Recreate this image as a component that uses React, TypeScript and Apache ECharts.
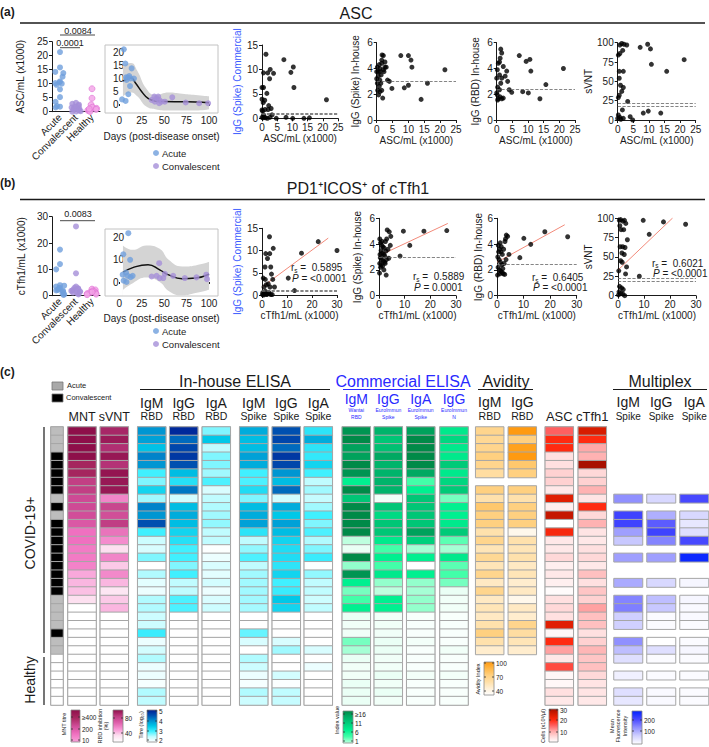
import React, { useEffect, useRef } from "react";
import * as echarts from "echarts";

const FONT = "'Liberation Sans', Arial, Helvetica, sans-serif";
const INK = "#1a1a1a";
const C_ACUTE = "#6f9fdc";
const C_CONV = "#a58ed8";
const C_HEALTHY = "#f2a2e6";
const BLUE_TXT = "#3b5bff";

// ===== Panels (a) / (b): dot plots (x1000 per mL) =====
const GROUPS = ["Acute", "Convalescent", "Healthy"];
const ascAcute = [21.3, 15.8, 14.2, 13.8, 12.5, 10.8, 10.5, 10.2, 10.0, 9.6, 8.0, 5.2, 3.5, 1.8, 1.5, 2.0];
const ascConv = [3.2, 2.5, 2.2, 1.8, 1.5, 1.2, 1.0, 0.8, 0.6, 0.4, 0.2, 0.1, 0.0, 2.8, 1.6, 0.9];
const ascHealthy = [8.2, 4.8, 2.5, 1.6, 1.2, 0.8, 0.5, 0.3, 0.1, 1.0];
const tfhAcute = [17.5, 12.0, 10.0, 4.0, 3.8, 3.5, 3.0, 2.8, 2.5, 2.0, 1.8, 1.5, 1.0, 0.5, 0.3, 2.2];
const tfhConv = [26.3, 8.5, 3.5, 3.0, 2.6, 2.2, 2.0, 1.8, 1.5, 1.2, 1.0, 0.8, 0.5, 2.8, 1.6];
const tfhHealthy = [2.5, 2.2, 1.8, 1.5, 1.2, 1.0, 0.8, 0.6, 0.4, 1.4];

// ===== Days post onset plots =====
const DAY_TICKS = [0, 25, 50, 75, 100];
const ASC_DAY_YTICKS = [0, 5, 10, 15, 20];
const TFH_DAY_YTICKS = [0, 10, 20];
const ascDaysAcute = [[5, 21.3], [6.7, 15.8], [13.7, 13.9], [9.3, 10.3], [11, 10.9], [7.4, 10.4], [12.6, 10], [8.1, 9.4], [16.3, 9.9], [11.9, 7], [10, 3.8], [3, 1.8], [7, 1.2]];
const ascDaysConv = [[36, 1.6], [39, 2.9], [41.5, 2.2], [39.6, 0.9], [43.3, 2.9], [44.4, 1.6], [47, 0.9], [44.4, 0.3], [50.7, 0.9], [59, 2.6], [74, 0.6], [89, 0.3], [99, 0.3]];
const ascFitDays = [4, 8, 13, 18, 25, 32, 40, 50, 70, 85, 100];
const ascFit = [9.0, 9.6, 10.2, 8.2, 4.8, 2.2, 1.2, 1.0, 0.9, 0.8, 0.5];
const ascBandDays = [4, 13, 20, 30, 40, 55, 70, 85, 100];
const ascBandUpper = [15, 16, 13, 6, 3.5, 4.5, 4, 3.5, 3];
const ascBandLower = [3, 4.5, 3, -1, -2, -2.5, -2.5, -2.5, -2];
const tfhDaysAcute = [[4.4, 12.5], [10, 22], [12, 10], [3.7, 3.3], [7.4, 4.3], [9.3, 2.8], [12.6, 2.2], [4.8, 0.6], [8, 0], [14.8, 2.8]];
const tfhDaysConv = [[38, 26.3], [44.4, 8.5], [36, 2.5], [41.5, 2.8], [45, 1.8], [50.7, 3.7], [49, 1.8], [60, 2.8], [73, 1.8], [86, 2.1], [97, 3.3], [97.8, 1.3]];
const tfhFitDays = [4, 15, 32, 45, 55, 70, 85, 100];
const tfhFit = [4.3, 6.5, 7.8, 5.5, 3.2, 1.5, 1.8, 3.5];
const tfhBandDays = [4, 15, 30, 45, 55, 70, 85, 100];
const tfhBandUpper = [16.5, 14.5, 16.5, 15, 10, 7, 7.5, 9];
const tfhBandLower = [-3.5, -0.5, 2, 0, -4, -6, -5, -3.5];

// ===== Correlation scatters =====
const ascVsIgGCom = [[0, 6.3], [0.5, 6.3], [1.3, 13.1], [0.5, 9.3], [1.9, 9.3], [2.7, 10], [3.8, 9.2], [2.5, 8.1], [1.6, 5.1], [0, 3.9], [0.9, 3.7], [0.4, 3.2], [2.2, 2.6], [1, 1.8], [2, 1.8], [0, 1.7], [0.5, 0.7], [3.3, 0.7], [0, 0.2], [0.3, 0.1], [0.8, 0.2], [1.2, 0.1], [1.8, 0], [2.6, 0.2], [4.7, 0], [7.9, 0.2], [10.1, 0], [13.8, 0], [15.6, 0.1], [7.2, 12], [9.5, 9.4], [10.3, 10.5], [10.5, 6.3], [21.2, 3.8], [0.2, 1.5], [3, 2]];
const ascVsIgGSpike = [[0.5, 3.75], [0.8, 4.3], [1.6, 4.65], [2.1, 5.0], [1.7, 5.05], [2.6, 4.5], [3, 4.1], [0.5, 3.4], [1, 3.1], [0.2, 2.85], [0.8, 2.6], [0.3, 2.3], [1, 2.2], [1.6, 2.3], [1.9, 1.7], [3.4, 3.1], [4, 3.0], [4.8, 2.45], [7.6, 5.0], [10, 5.0], [10.8, 4.65], [11.1, 4.1], [8.7, 2.5], [10, 2.7], [14, 1.6], [16, 2.85], [21.5, 3.9], [0.2, 4.1], [1, 4.0], [2.1, 3.9], [1.4, 3.5], [0, 3.2], [2.6, 4.1], [1, 3.75], [2.3, 3.75], [0.6, 1.95], [1.3, 2.85], [0, 3.75], [1.6, 4.4]];
const ascVsIgGRbd = [[1.3, 5.5], [1.6, 5.2], [1.1, 4.8], [0.5, 4.4], [2.1, 4.15], [3.2, 3.8], [2.7, 3.4], [0.2, 3.9], [0.9, 3.5], [1.6, 3.25], [0, 3.25], [1.3, 2.85], [0.3, 2.55], [0.9, 2.35], [3.5, 3.0], [0.2, 1.95], [1.1, 1.8], [1.6, 1.65], [0.5, 1.65], [2.1, 1.7], [0.3, 1.55], [4, 2.35], [4.8, 2.15], [7.2, 5.0], [9.4, 4.55], [10.6, 4.7], [10.9, 3.8], [8.3, 2.2], [10.1, 2.1], [13.8, 1.65], [15.7, 2.75], [21.3, 4.0], [0.9, 4.5], [0, 2.1]];
const ascVsSvnt = [[0.7, 97], [1.3, 99], [2, 98], [2.9, 97], [1.6, 90], [0.2, 84], [0.7, 86], [0.5, 63], [1.8, 63], [0.5, 54], [0.9, 45], [1.8, 42], [1.3, 37], [0.2, 29], [0.5, 32], [3.2, 24], [1.5, 13], [0.2, 6.5], [0.7, 3.4], [1.8, 2.2], [0, 2], [1, 1], [4, 4.3], [4.8, 0], [7.2, 94], [9.6, 98], [10.5, 92], [10.8, 72], [15.7, 63], [21.3, 78], [8.2, 9], [9.8, 11.5], [13.8, 9]];
const tfhVsIgGCom = [[3, 13.1], [4.5, 10.5], [1.5, 9.3], [3.1, 9.3], [2.2, 8.2], [1.2, 6.3], [3.5, 6.3], [4.3, 3.5], [0.5, 3.8], [1.3, 3.5], [2.5, 2.5], [0.8, 1.8], [3.2, 1.8], [5, 1.8], [0.3, 0.5], [1, 0.2], [1.8, 0.1], [2.6, 0.3], [3.5, 0.1], [0.6, 0], [4.1, 0.1], [13, 1], [10.5, 3.8], [15.8, 9.4], [22.5, 12], [30, 10], [2, 0.2], [1.4, 0.8], [2.8, 0.5], [0.2, 0.1], [1.7, 2.3], [3.8, 4.7]];
const tfhVsIgGSpike = [[0.3, 4.4], [0.6, 4.1], [1, 3.9], [1.5, 3.8], [2, 3.7], [2.5, 4.2], [3, 4.4], [0.8, 3.5], [1.2, 3.3], [2.2, 3.1], [3.5, 3.6], [4.4, 3.9], [0.5, 2.95], [1, 2.8], [1.6, 2.7], [2.2, 2.6], [0.3, 2.5], [0.8, 2.4], [1.4, 2.3], [2.4, 2.5], [0.6, 2.2], [0.2, 1.75], [2.8, 1.6], [1.8, 3.2], [3.2, 5.1], [4, 4.95], [4.6, 4.6], [9.5, 5.0], [17.5, 5.0], [26.4, 5.05], [12, 3.9], [8.2, 3.07], [1.2, 4.2], [2.7, 3.45], [0.4, 3.2], [3.8, 2.9], [1.9, 2.0], [2.9, 2.8]];
const tfhVsIgGRbd = [[0.5, 3.9], [1, 3.6], [1.5, 3.4], [2, 3.2], [2.5, 3.6], [3, 4.2], [3.5, 4.7], [4, 4.6], [0.3, 3.0], [0.8, 2.8], [1.3, 2.6], [1.8, 2.4], [0.4, 2.2], [0.9, 2.0], [1.4, 1.9], [1.9, 1.8], [2.4, 1.7], [2.9, 1.65], [0.2, 1.6], [1.1, 1.7], [2.2, 2.1], [3.4, 2.8], [4.5, 3.2], [0.6, 3.4], [1.6, 3.8], [2.7, 2.5], [8.6, 2.95], [10.1, 4.45], [12.7, 3.98], [18, 4.96], [26.6, 4.57], [3.2, 4.4], [1.2, 4.1]];
const tfhVsSvnt = [[0.5, 97], [1, 98], [1.8, 96], [2.5, 97], [3, 93], [1.2, 85], [2.2, 85], [3.6, 72], [0.8, 63], [1.8, 63], [2.4, 53], [1, 45], [1.6, 43], [3.3, 37], [0.3, 32], [2.9, 28], [0.6, 12], [1.4, 10], [2, 8], [0.4, 5], [1.1, 3], [1.9, 2], [0.2, 1], [2.6, 0], [9.7, 97], [17.5, 95], [26, 92], [12, 79], [8.2, 25], [0.7, 90], [2.7, 62], [1.5, 55]];
const thrCommercial = [0.8, 1.1];
const thrSpike = [3.0];
const thrRbd = [2.4];
const thrSvnt = [18, 22];
const fitTfhCom = [[0, 1.8], [26.5, 12.8]];
const fitTfhSpike = [[0, 3.1], [26.8, 5.6]];
const fitTfhRbd = [[0, 2.6], [25.5, 5.5]];
const fitTfhSvnt = [[0, 33], [21, 100]];
const statsR = ["0.5895", "0.5889", "0.6405", "0.6021"];
const statsP = ["<0.0001", "0.0001", "<0.0001", "<0.0001"];
const pvalsASC = ["0.0084", "0.0001"];
const pvalsTfh = ["0.0083"];

// ===== Panel (c) heatmap: 33 rows (27 COVID-19+, 6 healthy) =====
const HM_ROWS = ["r1", "r2", "r3", "r4", "r5", "r6", "r7", "r8", "r9", "r10", "r11", "r12", "r13", "r14", "r15", "r16", "r17", "r18", "r19", "r20", "r21", "r22", "r23", "r24", "r25", "r26", "r27", "r28", "r29", "r30", "r31", "r32", "r33"];
// 1 = acute, 2 = convalescent, 0 = healthy
const status = [1, 1, 1, 2, 2, 2, 2, 2, 1, 2, 1, 2, 2, 2, 2, 2, 2, 2, 2, 2, 1, 1, 1, 1, 2, 1, 1, 0, 0, 0, 0, 0, 0];
const mnt = [400, 400, 400, 400, 340, 340, 290, 290, 270, 270, 265, 245, 200, 200, 185, 185, 175, 125, 110, 100, 66, 0, 0, 0, 0, 0, 0, 0, 0, 0, 0, 0, 0];
const svnt = [92, 96, 89, 97, 88, 98, 97, 97, 57, 80, 76, 84, 62, 55, 36, 57, 41, 56, 45, 33, 41, 45, 20, 20, 20, 20, 20, 20, 20, 20, 20, 20, 20];
const igmRbd = [3.95, 3.85, 3.55, 4.1, 3.95, 3.0, 2.75, 3.35, 2.62, 4.1, 3.95, 4.5, 3.0, 2.4, 2.3, 2.75, 2.0, 2.56, 2.22, 2.15, 2.56, 2.56, 2.4, 2.4, 3.05, 2.15, 2.35, 2.56, 2.15, 2.15, 2.07, 2.56, 2.5];
const iggRbd = [4.9, 4.3, 4.6, 4.75, 4.5, 3.6, 3.2, 4.2, 2.35, 3.6, 3.75, 3.6, 3.35, 3.2, 3.0, 3.0, 2.75, 3.0, 2.5, 2.5, 2.95, 2.95, 2.0, 2.0, 2.0, 2.0, 2.0, 2.0, 2.0, 2.0, 2.0, 2.0, 2.0];
const igaRbd = [2.75, 3.5, 2.5, 2.75, 2.75, 2.62, 2.95, 2.3, 2.5, 2.56, 2.62, 2.68, 2.5, 2.5, 2.02, 2.15, 2.3, 2.22, 2.35, 2.15, 2.3, 2.4, 2.0, 2.0, 2.0, 2.0, 2.0, 2.0, 2.0, 2.0, 2.0, 2.0, 2.0];
const igmSpike = [3.75, 3.6, 3.6, 3.85, 3.75, 3.0, 2.95, 3.25, 2.75, 3.6, 3.75, 3.85, 3.15, 2.5, 2.68, 2.95, 2.5, 2.62, 2.62, 2.62, 2.62, 2.6, 2.0, 2.0, 2.85, 2.3, 2.0, 2.56, 2.4, 2.15, 2.07, 2.56, 2.4];
const iggSpike = [4.5, 4.6, 4.3, 4.75, 4.6, 3.95, 3.6, 4.3, 2.35, 3.75, 3.5, 3.85, 3.6, 3.35, 3.25, 3.25, 3.15, 3.35, 3.0, 3.05, 3.5, 3.35, 2.0, 2.0, 2.0, 2.3, 2.62, 2.0, 2.0, 2.35, 2.03, 2.5, 2.45];
const igaSpike = [3.15, 3.75, 3.15, 3.1, 3.35, 3.0, 2.5, 2.62, 2.45, 2.62, 3.0, 2.75, 2.95, 2.56, 2.75, 3.05, 2.02, 2.68, 2.5, 2.5, 2.4, 2.5, 2.0, 2.0, 2.0, 2.0, 2.3, 2.0, 2.15, 2.0, 2.0, 2.0, 2.0];
const wantaiIgm = [15.2, 16, 14.3, 14.3, 16, 15.2, 8, 16, 11.5, 16, 16, 16, 16, 2.7, 0.9, 16, 3.6, 15.2, 8, 4.2, 5.3, 8, 0.9, 0.6, 0.6, 4.2, 3.2, 0.9, 0.6, 0.6, 0.9, 0.9, 0.9];
const euroIggSpike = [13, 11.5, 12, 13.8, 13, 13, 13, 13, 0.6, 11.5, 9.8, 11.5, 11.5, 8.6, 5.3, 8, 5.3, 8.6, 3.6, 2.7, 8, 8, 0.6, 0.6, 0.6, 0.9, 0.9, 0.6, 0.6, 0.9, 0.6, 0.9, 0.6];
const euroIgaSpike = [14.3, 16, 16, 16, 16, 13.8, 5.3, 8, 11.5, 11.5, 11.5, 11.5, 14.3, 10.7, 3.2, 8, 0, 8, 3.6, 3.2, 3.6, 3.6, 0.3, 0.3, 0.3, 0.5, 0.3, 0.3, 0.3, 0.5, 0.3, 0.3, 0.3];
const euroIggN = [8.6, 10, 8.6, 8.6, 11.2, 8.6, 10.2, 11.2, 4.2, 8, 8, 8.6, 11.2, 4.8, 3.2, 8.6, 4.8, 5.3, 4.2, 0.9, 0.6, 0.6, 0.3, 0.3, 0.3, 0.3, 0.6, 0.3, 0.3, 0.5, 0.3, 0.3, 0.3];
const avidIgm = [72, 70, 72, 76, 72, 66, null, 76, 63, 80, 76, 76, 63, 72, 60, 70, 60, 72, 57, 72, 57, 60, 57, 63, 76, 63, 54, null, null, null, null, null, null];
const avidIgg = [100, 76, 97, 100, 80, 76, null, 76, 63, 76, 76, 76, 46, 63, 60, 63, 57, 60, 54, 57, 46, 57, 54, 72, 66, 60, 54, null, null, null, null, null, null];
const ascCells = [15, 20, 20, 4, 4, 5.7, 5.7, 3, 24, 2, 27, 0, 21, 3, 3, 5, 2, 3, 2, 0.5, 4, 5, 4, 24, 1, 20, 10.5, 3, 17, 1, 1, 4, 3];
const tfhCells = [25, 20, 10, 9, 30, 5, 5.7, 9, 3.5, 20, 5, 9, 3.5, 3, 4, 5, 3, 7.5, 4, 7, 5.7, 10.5, 7.5, 7.5, 4, 5.7, 8.5, 7, 7.5, 5, 3.5, 3.5, 3];
const mxIgm = [null, null, null, null, null, null, null, null, 125, null, 195, 195, 110, 70, null, 110, null, null, 100, null, 135, 140, 62, 62, null, 125, 80, 42, null, 20, null, 42, 32];
const mxIgg = [null, null, null, null, null, null, null, null, 52, null, 95, 170, 195, 135, null, 110, null, null, 52, null, 80, 70, 5, 5, null, 0, 42, 5, null, 5, null, 8, 8];
const mxIga = [null, null, null, null, null, null, null, null, 188, null, 52, 32, 42, 188, null, 240, null, null, 12, null, 12, 8, 8, 5, null, 5, 12, 5, null, 5, null, 5, 5];

// colour scales
const pinkMNT = ["#ffffff", "#fde0f0", "#f8a0d8", "#f070c0", "#d04c98", "#a82860", "#8e0f4a"];
const pinkSVNT = ["#ffffff", "#fde0f0", "#f896d4", "#e060ac", "#c03e84", "#8e0f4a"];
const blueTitre = ["#ffffff", "#c0fcff", "#40f0ff", "#00c8e8", "#0090d0", "#0050b0", "#001f96"];
const greenIndex = ["#ffffff", "#c0ffe0", "#40ffa8", "#00f090", "#00d07c", "#00b068", "#008a48"];
const orangeAvidity = ["#ffffff", "#fff0d6", "#ffe0a8", "#ffd080", "#ffb848", "#ff9a10"];
const redCells = ["#ffffff", "#ffd8d8", "#ffa8a8", "#ff6060", "#ff2a10", "#d81c00", "#a81000"];
const blueMFI = ["#ffffff", "#d0d0ff", "#9090ff", "#4848ff", "#0022ff"];

function buildOption() {
  const grid: any[] = [], xAxis: any[] = [], yAxis: any[] = [], series: any[] = [], visualMap: any[] = [], graphic: any[] = [];
  const line = { color: INK, width: 1 };
  const lbl = (extra: any = {}) => ({ fontSize: 10, color: INK, fontFamily: FONT, ...extra });
  const addGrid = (r: any) => { grid.push({ containLabel: false, ...r }); return grid.length - 1; };
  const T = (x: number, y: number, text: string, o: any = {}) => {
    const style: any = {
      text, fill: o.fill || INK, fontFamily: FONT, fontSize: o.size || 10, fontWeight: o.weight || "normal",
      fontStyle: o.italic ? "italic" : "normal",
      textAlign: o.align || "left", textVerticalAlign: o.valign || "middle",
    };
    if (o.lh) style.lineHeight = o.lh;
    if (o.rich) style.rich = o.rich;
    graphic.push({ type: "text", x, y, rotation: o.rotation || 0, z: 50, silent: true, style });
  };
  const L = (x1: number, y1: number, x2: number, y2: number, o: any = {}) => {
    graphic.push({ type: "line", z: 50, silent: true, shape: { x1, y1, x2, y2 }, style: { stroke: o.stroke || INK, lineWidth: o.w || 1 } });
  };

  const dotPlot = (r: any, yMax: number, yInt: number, yName: string, nameGap: number, a: number[], c: number[], h: number[]) => {
    const gi = addGrid(r);
    xAxis.push({
      type: "category", gridIndex: gi, data: GROUPS, jitter: 11, jitterOverlap: false, jitterMargin: 0.5,
      axisLine: { lineStyle: line }, axisTick: { alignWithLabel: true, length: 3, lineStyle: line },
      axisLabel: { ...lbl(), rotate: 45, margin: 4, interval: 0 }, splitLine: { show: false },
    });
    yAxis.push({
      type: "value", gridIndex: gi, min: 0, max: yMax, interval: yInt, name: yName, nameLocation: "middle", nameGap,
      nameTextStyle: lbl(), axisLine: { show: true, lineStyle: line }, axisTick: { show: true, length: 3, lineStyle: line },
      axisLabel: { ...lbl(), margin: 4 }, splitLine: { show: false },
    });
    series.push(
      { type: "scatter", name: "Acute", xAxisIndex: gi, yAxisIndex: gi, symbolSize: 6, itemStyle: { color: C_ACUTE }, data: a.map((v) => ["Acute", v]) },
      { type: "scatter", name: "Convalescent", xAxisIndex: gi, yAxisIndex: gi, symbolSize: 6, itemStyle: { color: C_CONV }, data: c.map((v) => ["Convalescent", v]) },
      { type: "scatter", name: "Healthy", xAxisIndex: gi, yAxisIndex: gi, symbolSize: 6, itemStyle: { color: C_HEALTHY, borderColor: "#e070d4", borderWidth: 0.8 }, data: h.map((v) => ["Healthy", v]) },
    );
  };

  const daysPlot = (r: any, yMin: number, yMax: number, yTicks: number[], nameGap: number, acute: number[][], conv: number[][], fd: number[], fv: number[], bd: number[], lo: number[], up: number[]) => {
    const gi = addGrid(r);
    xAxis.push({
      type: "value", gridIndex: gi, min: -16, max: 110, axisLine: { show: false },
      axisTick: { show: true, customValues: DAY_TICKS, length: 2, lineStyle: line },
      axisLabel: { ...lbl(), customValues: DAY_TICKS, margin: 2 }, splitLine: { show: false },
      name: "Days (post-disease onset)", nameLocation: "middle", nameGap, nameTextStyle: lbl(),
    });
    yAxis.push({
      type: "value", gridIndex: gi, min: yMin, max: yMax, axisLine: { show: false }, axisTick: { show: false },
      axisLabel: { ...lbl(), customValues: yTicks, inside: true, margin: 8 }, splitLine: { show: false },
    });
    series.push(
      // confidence band: grey area under the upper bound, masked in white under the lower bound
      { type: "line", xAxisIndex: gi, yAxisIndex: gi, smooth: true, symbol: "none", silent: true, lineStyle: { opacity: 0 }, areaStyle: { color: "#d4d4d4", opacity: 1, origin: "start" }, data: bd.map((d, i) => [d, up[i]]), z: 1 },
      { type: "line", xAxisIndex: gi, yAxisIndex: gi, smooth: true, symbol: "none", silent: true, lineStyle: { opacity: 0 }, areaStyle: { color: "#ffffff", opacity: 1, origin: "start" }, data: bd.map((d, i) => [d, lo[i]]), z: 2 },
      { type: "line", xAxisIndex: gi, yAxisIndex: gi, smooth: true, symbol: "none", silent: true, lineStyle: { color: "#111", width: 1.5 }, data: fd.map((d, i) => [d, fv[i]]), z: 3 },
      { type: "scatter", name: "Acute", xAxisIndex: gi, yAxisIndex: gi, symbolSize: 6, itemStyle: { color: C_ACUTE }, data: acute, z: 4 },
      { type: "scatter", name: "Convalescent", xAxisIndex: gi, yAxisIndex: gi, symbolSize: 6, itemStyle: { color: C_CONV }, data: conv, z: 4 },
    );
    graphic.push({ type: "rect", z: 40, silent: true, shape: { x: r.left, y: r.top, width: r.width, height: r.height }, style: { fill: "none", stroke: "#c2c2c2", lineWidth: 1 } });
  };

  const corrPlot = (r: any, pts: number[][], xMax: number, xInt: number, yMax: number, yInt: number, xName: string, yName: string, yColor: string, yGap: number, thr: number[], fit?: number[][]) => {
    const gi = addGrid(r);
    xAxis.push({
      type: "value", gridIndex: gi, min: 0, max: xMax, interval: xInt, name: xName, nameLocation: "middle", nameGap: 15,
      nameTextStyle: lbl(), axisLine: { show: true, onZero: false, lineStyle: line }, axisTick: { show: true, length: 3, lineStyle: line },
      axisLabel: { ...lbl(), margin: 4 }, splitLine: { show: false },
    });
    yAxis.push({
      type: "value", gridIndex: gi, min: 0, max: yMax, interval: yInt, name: yName, nameLocation: "middle", nameGap: yGap,
      nameTextStyle: lbl({ color: yColor }), axisLine: { show: true, onZero: false, lineStyle: line }, axisTick: { show: true, length: 3, lineStyle: line },
      axisLabel: { ...lbl(), margin: 4 }, splitLine: { show: false },
    });
    series.push({
      type: "scatter", xAxisIndex: gi, yAxisIndex: gi, symbolSize: 5, itemStyle: { color: "#000" }, data: pts, z: 4,
      markLine: { silent: true, symbol: ["none", "none"], label: { show: false }, lineStyle: { type: "dashed", color: "#666", width: 0.8 }, data: thr.map((t) => ({ yAxis: t })) },
    });
    if (fit) series.push({ type: "line", xAxisIndex: gi, yAxisIndex: gi, symbol: "none", silent: true, lineStyle: { color: "#f28a7a", width: 1 }, data: fit, z: 3 });
  };

  // ---------- panel (a) ----------
  dotPlot({ left: 52, top: 41.7, width: 48, height: 70 }, 25, 5, "ASC/mL (x1000)", 27, ascAcute, ascConv, ascHealthy);
  daysPlot({ left: 105, top: 45, width: 113, height: 68 }, -3.5, 23, ASC_DAY_YTICKS, 18, ascDaysAcute, ascDaysConv, ascFitDays, ascFit, ascBandDays, ascBandLower, ascBandUpper);
  corrPlot({ left: 262, top: 45, width: 76, height: 73.3 }, ascVsIgGCom, 25, 5, 15, 5, "ASC/mL (x1000)", "IgG (Spike) Commercial", BLUE_TXT, 18, thrCommercial);
  corrPlot({ left: 376.7, top: 42.7, width: 79.3, height: 77.3 }, ascVsIgGSpike, 25, 5, 6, 2, "ASC/mL (x1000)", "IgG (Spike) In-house", INK, 16, thrSpike);
  corrPlot({ left: 496.7, top: 42.7, width: 78.3, height: 77.3 }, ascVsIgGRbd, 25, 5, 6, 2, "ASC/mL (x1000)", "IgG (RBD) In-house", INK, 16, thrRbd);
  corrPlot({ left: 617.7, top: 42.7, width: 78, height: 77.3 }, ascVsSvnt, 25, 5, 100, 25, "ASC/mL (x1000)", "sVNT", INK, 16, thrSvnt);

  // ---------- panel (b) ----------
  dotPlot({ left: 52, top: 216.7, width: 48, height: 79 }, 30, 10, "cTfh1/mL (x1000)", 26, tfhAcute, tfhConv, tfhHealthy);
  daysPlot({ left: 105, top: 229, width: 113, height: 67 }, -6.3, 23.9, TFH_DAY_YTICKS, 17, tfhDaysAcute, tfhDaysConv, tfhFitDays, tfhFit, tfhBandDays, tfhBandLower, tfhBandUpper);
  corrPlot({ left: 262, top: 228.3, width: 75, height: 66.7 }, tfhVsIgGCom, 30, 10, 15, 5, "cTfh1/mL (x1000)", "IgG (Spike) Commercial", BLUE_TXT, 17, thrCommercial, fitTfhCom);
  corrPlot({ left: 379, top: 218.3, width: 77, height: 77.4 }, tfhVsIgGSpike, 30, 10, 6, 2, "cTfh1/mL (x1000)", "IgG (Spike) In-house", INK, 17, thrSpike, fitTfhSpike);
  corrPlot({ left: 497, top: 218.3, width: 79.7, height: 77.4 }, tfhVsIgGRbd, 30, 10, 6, 2, "cTfh1/mL (x1000)", "IgG (RBD) In-house", INK, 14, thrRbd, fitTfhRbd);
  corrPlot({ left: 618, top: 218, width: 78, height: 77.7 }, tfhVsSvnt, 30, 10, 100, 25, "cTfh1/mL (x1000)", "sVNT", INK, 15, thrSvnt, fitTfhSvnt);

  // ---------- panel (c) heatmap ----------
  const hm = (left: number, width: number, values: (number | null)[], vm: any, outline = true) => {
    const gi = addGrid({ left, top: 427, width, height: 278, show: outline, borderColor: "#8f8f8f", borderWidth: 1.2 });
    xAxis.push({ type: "category", gridIndex: gi, data: ["v"], show: false });
    yAxis.push({ type: "category", gridIndex: gi, data: HM_ROWS, inverse: true, show: false });
    const sIdx = series.length;
    const data: any[] = [];
    values.forEach((v, i) => { if (v !== null) data.push([0, i, v]); });
    series.push({ type: "heatmap", xAxisIndex: gi, yAxisIndex: gi, data, silent: true, emphasis: { disabled: true }, itemStyle: { borderColor: "#a6a6a6", borderWidth: 1 } });
    visualMap.push({ show: false, dimension: 2, seriesIndex: sIdx, ...vm });
  };
  const cont = (min: number, max: number, colors: string[]) => ({ type: "continuous", min, max, inRange: { color: colors } });
  hm(51, 12, status, { type: "piecewise", pieces: [{ value: 0, color: "#ffffff" }, { value: 1, color: "#bdbdbd" }, { value: 2, color: "#000000" }] });
  hm(68, 28, mnt, cont(0, 400, pinkMNT));
  hm(100.3, 28, svnt, cont(20, 100, pinkSVNT));
  const titre = cont(2, 5, blueTitre);
  hm(137.7, 28, igmRbd, titre);
  hm(169.7, 28, iggRbd, titre);
  hm(202.3, 28, igaRbd, titre);
  hm(239.7, 28, igmSpike, titre);
  hm(272.3, 28, iggSpike, titre);
  hm(304.3, 28, igaSpike, titre);
  const idx = cont(0, 16, greenIndex);
  hm(342.3, 28, wantaiIgm, idx);
  hm(374.3, 28, euroIggSpike, idx);
  hm(406.7, 28, euroIgaSpike, idx);
  hm(440, 28, euroIggN, idx);
  const avid = cont(40, 100, orangeAvidity);
  hm(475.7, 28, avidIgm, avid, false);
  hm(508.3, 28, avidIgg, avid, false);
  const cells = cont(0, 30, redCells);
  hm(545.3, 28, ascCells, cells);
  hm(578.3, 28, tfhCells, cells);
  const mfi = cont(0, 250, blueMFI);
  hm(614, 28.5, mxIgm, mfi, false);
  hm(647, 28.5, mxIgg, mfi, false);
  hm(680, 28.5, mxIga, mfi, false);

  // ---------- graphic annotations ----------
  T(0, 12, "(a)", { size: 12, weight: "bold" });
  T(356, 13, "ASC", { size: 16, align: "center" });
  L(20, 23, 705, 23, { w: 1.5 });
  T(0, 183, "(b)", { size: 12, weight: "bold" });
  T(358, 188, "PD1⁺ICOS⁺ of cTfh1", { size: 16, align: "center" });
  L(20, 199.5, 705, 199.5, { w: 1.5 });
  T(0, 372, "(c)", { size: 12, weight: "bold" });

  // significance bars
  T(78, 30.5, pvalsASC[0], { size: 9, align: "center" });
  L(60, 35, 95, 35, { w: 0.8 });
  T(70, 42.5, pvalsASC[1], { size: 9, align: "center" });
  L(60, 47.7, 80, 47.7, { w: 0.8 });
  T(78, 214, pvalsTfh[0], { size: 9, align: "center" });
  L(60, 220.7, 95, 220.7, { w: 0.8 });

  // correlation statistics (Spearman r and P)
  const rich = {
    r: { fontSize: 10, fontFamily: FONT, fill: INK, lineHeight: 12, verticalAlign: "middle" },
    s: { fontSize: 6.5, fontFamily: FONT, fill: INK, lineHeight: 12, verticalAlign: "bottom", padding: [4, 0, 0, 0] },
    n: { fontSize: 10, fontFamily: FONT, fill: INK, lineHeight: 12, verticalAlign: "middle" },
    p: { fontSize: 10, fontFamily: FONT, fill: INK, lineHeight: 12, fontStyle: "italic", verticalAlign: "middle" },
  };
  const stat = (x: number, y1: number, y2: number, i: number) => {
    T(x, y1, `{r|r}{s|s}{n| =  ${statsR[i]}}`, { rich });
    T(x + 1, y2, `{p|P}{n| = ${statsP[i]}}`, { rich });
  };
  stat(291, 267.5, 278, 0);
  stat(413, 276.5, 287, 1);
  stat(532, 277.5, 287.5, 2);
  stat(652, 263, 273.5, 3);

  // (c) status key
  graphic.push({ type: "rect", z: 50, silent: true, shape: { x: 52, y: 382, width: 11, height: 8 }, style: { fill: "#a9a9a9", stroke: "#777", lineWidth: 0.8 } });
  graphic.push({ type: "rect", z: 50, silent: true, shape: { x: 52, y: 394, width: 11, height: 8 }, style: { fill: "#000", stroke: "#777", lineWidth: 0.8 } });
  T(67, 385, "Acute", { size: 7.5 });
  T(66, 397.5, "Convalescent", { size: 7.5 });

  // group titles
  T(235, 381, "In-house ELISA", { size: 16, align: "center" });
  L(140, 389.5, 330, 389.5);
  T(403, 381, "Commercial ELISA", { size: 16, align: "center", fill: "#2a2aff" });
  L(343, 389.5, 465, 389.5, { stroke: "#2a2aff" });
  T(506, 381, "Avidity", { size: 16, align: "center" });
  L(478, 389.5, 533, 389.5);
  T(660, 381, "Multiplex", { size: 16, align: "center" });
  L(613, 389.5, 707, 389.5);

  // column headers
  T(82, 417, "MNT", { size: 12.5, align: "center" });
  T(114.3, 417, "sVNT", { size: 12.5, align: "center" });
  const inHouse = [[151.7, "IgM", "RBD"], [183.7, "IgG", "RBD"], [216.3, "IgA", "RBD"], [253.7, "IgM", "Spike"], [286.3, "IgG", "Spike"], [318.3, "IgA", "Spike"]];
  inHouse.forEach(([x, a, b]: any) => { T(x, 403, a, { size: 14, align: "center" }); T(x, 416, b, { size: 10.5, align: "center" }); });
  const commercial = [[356.3, "IgM", "Wantai\nRBD"], [388.3, "IgG", "EuroImmun\nSpike"], [420.7, "IgA", "EuroImmun\nSpike"], [454, "IgG", "EuroImmun\nN"]];
  commercial.forEach(([x, a, b]: any) => { T(x, 399, a, { size: 14, align: "center", fill: "#2a2aff" }); T(x, 413.5, b, { size: 5, align: "center", fill: "#2a2aff", lh: 7 }); });
  T(489.7, 402, "IgM", { size: 14, align: "center" });
  T(489.7, 416, "RBD", { size: 10.5, align: "center" });
  T(522.3, 402, "IgG", { size: 14, align: "center" });
  T(522.3, 416, "RBD", { size: 10.5, align: "center" });
  T(559.3, 416.5, "ASC", { size: 13, align: "center" });
  T(592.3, 416.5, "cTfh1", { size: 13, align: "center" });
  [[628.2, "IgM"], [661.2, "IgG"], [694.2, "IgA"]].forEach(([x, a]: any) => { T(x, 402, a, { size: 14, align: "center" }); T(x, 416.5, "Spike", { size: 10, align: "center" }); });

  // row group brackets
  L(44, 427, 44, 653, { w: 1.2 });
  L(44, 657, 44, 705, { w: 1.2 });
  T(30, 533, "COVID-19+", { size: 14, align: "center", rotation: Math.PI / 2 });
  T(30, 680, "Healthy", { size: 14, align: "center", rotation: Math.PI / 2 });

  // colour keys
  const grad = (cols: string[]) => ({ type: "linear", x: 0, y: 0, x2: 0, y2: 1, colorStops: cols.map((c, i) => ({ offset: i / (cols.length - 1), color: c })) });
  const keys = [
    { x: 71, y: 710, w: 9, h: 32, cols: pinkMNT.slice(2).reverse(), ticks: [["≥400", 717], ["200", 729], ["10", 740]], title: "MNT titre", tx: 64, ty: 724 },
    { x: 113, y: 710, w: 10, h: 32, cols: pinkSVNT.slice().reverse(), ticks: [["80", 718], ["40", 733]], title: "RBD inhibition\n(%)", tx: 103, ty: 726 },
    { x: 147, y: 710, w: 10, h: 32, cols: blueTitre.slice().reverse(), ticks: [["5", 711], ["4", 721], ["3", 731], ["2", 740]], title: "Titre (log₁₀)", tx: 141, ty: 725 },
    { x: 343, y: 711, w: 10, h: 32, cols: greenIndex.slice(1).reverse(), ticks: [["≥16", 714], ["11", 723], ["6", 732], ["1", 741]], title: "Index value", tx: 337, ty: 720 },
    { x: 484, y: 662, w: 10, h: 33, cols: orangeAvidity.slice().reverse(), ticks: [["100", 663], ["70", 677], ["40", 691]], title: "Avidity Index", tx: 478, ty: 679 },
    { x: 549, y: 709, w: 9, h: 33, cols: redCells.slice().reverse(), ticks: [["30", 710], ["20", 720], ["10", 732]], title: "Cells (x10³/µl)", tx: 543, ty: 726 },
    { x: 632, y: 711, w: 10, h: 33, cols: blueMFI.slice().reverse(), ticks: [["200", 720], ["100", 731]], title: "Mean\nFluorescence\nIntensity", tx: 618, ty: 726 },
  ];
  keys.forEach((k: any) => {
    graphic.push({ type: "rect", z: 50, silent: true, shape: { x: k.x, y: k.y, width: k.w, height: k.h }, style: { fill: grad(k.cols), stroke: "#888", lineWidth: 0.8 } });
    k.ticks.forEach(([t, ty]: any) => {
      L(k.x, ty, k.x + 2, ty, { w: 0.8, stroke: "#333" });
      L(k.x + k.w - 2, ty, k.x + k.w, ty, { w: 0.8, stroke: "#333" });
      T(k.x + k.w + 2, ty, t, { size: 6.5 });
    });
    T(k.tx, k.ty, k.title, { size: 5.5, align: "center", rotation: Math.PI / 2, lh: 6.5 });
  });

  const legendCommon = {
    orient: "vertical", itemGap: 3, itemWidth: 6, itemHeight: 6, icon: "circle", selectedMode: false, padding: 0,
    data: ["Acute", "Convalescent"], textStyle: { fontSize: 9.5, color: INK, fontFamily: FONT, padding: [0, 0, 0, -2] },
  };

  return {
    animation: false,
    backgroundColor: "#ffffff",
    textStyle: { fontFamily: FONT },
    legend: [
      { ...legendCommon, left: 153, top: 148 },
      { ...legendCommon, left: 153, top: 326 },
    ],
    grid, xAxis, yAxis, series, visualMap, graphic,
  };
}

export default function App() {
  const ref = useRef<HTMLDivElement>(null);
  useEffect(() => {
    if (!ref.current) return;
    document.body.style.margin = "0";
    const chart = echarts.init(ref.current, null, { renderer: "svg" });
    chart.setOption(buildOption() as any);
    return () => chart.dispose();
  }, []);
  return <div ref={ref} style={{ width: 709, height: 747, position: "absolute", left: 0, top: 0 }} />;
}
